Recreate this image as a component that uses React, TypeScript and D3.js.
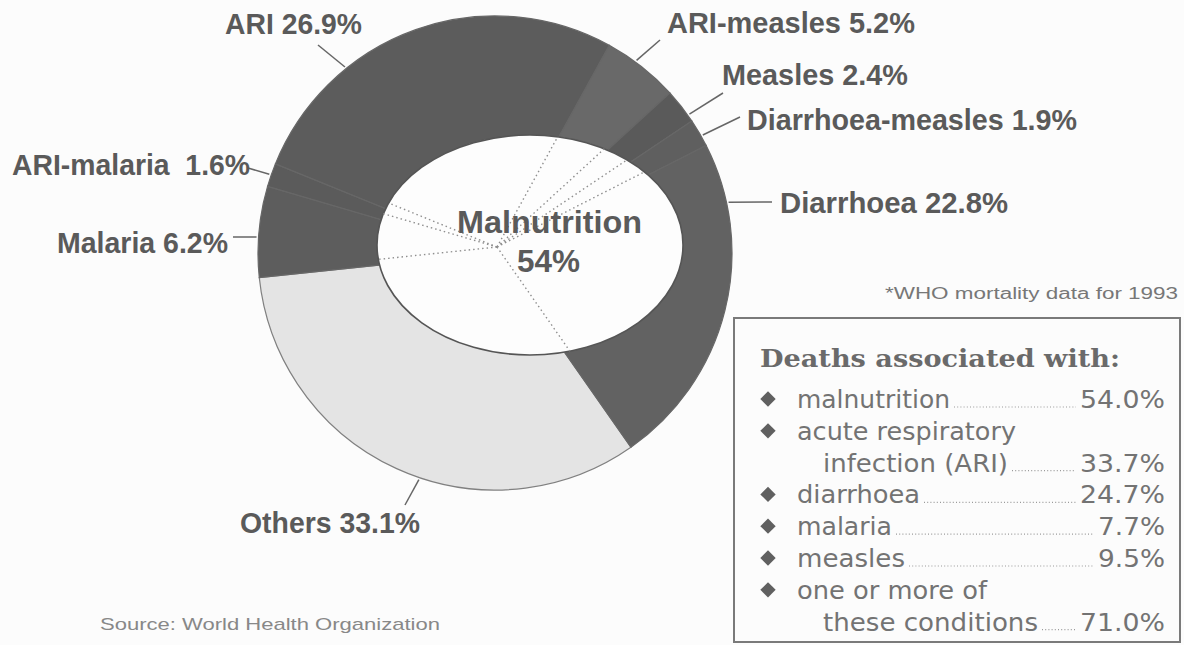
import React from "react";
import * as d3 from "d3";

// ---- data ----
const categories = ["Others", "Malaria", "ARI-malaria", "ARI", "ARI-measles", "Measles", "Diarrhoea-measles", "Diarrhoea"];
const shares = [33.1, 6.2, 1.6, 26.9, 5.2, 2.4, 1.9, 22.8];
const centerTitle = "Malnutrition";
const centerShare = 54;
const legendTitle = "Deaths associated with:";
const legendLabels = [["malnutrition"], ["acute respiratory", "infection (ARI)"], ["diarrhoea"], ["malaria"], ["measles"], ["one or more of", "these conditions"]];
const legendValues = [54.0, 33.7, 24.7, 7.7, 9.5, 71.0];
const footnote = "*WHO mortality data for 1993";
const sourceText = "Source: World Health Organization";

// ---- styles / layout ----
const W = 1184, H = 645;
const cx = 495, cy = 253, R = 237;
const hole = { cx: 530, cy: 245, rx: 153, ry: 110 };
const hub = { x: 497, y: 247 };
const sliceColors: Record<string, string> = {
  "Others": "#e4e4e4",
  "Malaria": "#5d5d5d",
  "ARI-malaria": "#5b5b5b",
  "ARI": "#5c5c5c",
  "ARI-measles": "#696969",
  "Measles": "#5a5a5a",
  "Diarrhoea-measles": "#5f5f5f",
  "Diarrhoea": "#626262",
};
const labelLayout: Record<string, { x: number; y: number; w: number; frac: number; lx: number; ly: number; sep: string }> = {
  "ARI": { x: 225, y: 34, w: 137, frac: 0.30, lx: 318, ly: 45, sep: " " },
  "ARI-measles": { x: 667, y: 33, w: 248, frac: 0.40, lx: 660, ly: 40, sep: " " },
  "Measles": { x: 722, y: 85, w: 186, frac: 0.80, lx: 723, ly: 93, sep: " " },
  "Diarrhoea-measles": { x: 747, y: 130, w: 330, frac: 0.62, lx: 740, ly: 117, sep: " " },
  "Diarrhoea": { x: 780, y: 213, w: 228, frac: 0.18, lx: 772, ly: 202, sep: " " },
  "ARI-malaria": { x: 12, y: 175, w: 238, frac: 0.5, lx: 248, ly: 168, sep: "  " },
  "Malaria": { x: 57, y: 253, w: 171, frac: 0.44, lx: 233, ly: 237, sep: " " },
  "Others": { x: 240, y: 533, w: 180, frac: 0.45, lx: 405, ly: 505, sep: " " },
};
const legendLineWidths = [[153], [219, 185], [123], [95], [108], [190, 215]];
const legendValueWidths = [85, 85, 85, 67, 67, 85];

function holeHit(a: number) {
  const dx = Math.sin(a), dy = -Math.cos(a);
  const px = hub.x - hole.cx, py = hub.y - hole.cy;
  const A = (dx * dx) / (hole.rx * hole.rx) + (dy * dy) / (hole.ry * hole.ry);
  const B = 2 * ((px * dx) / (hole.rx * hole.rx) + (py * dy) / (hole.ry * hole.ry));
  const C = (px * px) / (hole.rx * hole.rx) + (py * py) / (hole.ry * hole.ry) - 1;
  const t = (-B + Math.sqrt(B * B - 4 * A * C)) / (2 * A);
  return { x: hub.x + dx * t, y: hub.y + dy * t };
}

export default function App() {
  const start = (145 * Math.PI) / 180;
  const pie = d3.pie<number>().sort(null).startAngle(start).endAngle(start + 2 * Math.PI);
  const arcs = pie(shares);
  const arc = d3.arc<d3.PieArcDatum<number>>().innerRadius(0).outerRadius(R);

  const labelFont = "'Liberation Sans', Arial, Helvetica, sans-serif";
  const legendFont = "'DejaVu Sans', Verdana, sans-serif";

  const legendX = 797, legendIndent = 823, valueRight = 1165, baseline0 = 408, lineStep = 31.8;
  let lineIdx = 0;
  const legendRows: React.ReactNode[] = [];
  legendLabels.forEach((lines, i) => {
    const firstY = baseline0 + lineIdx * lineStep;
    legendRows.push(
      <path key={`d${i}`} d={d3.symbol().type(d3.symbolDiamond2).size(150)() as string}
        transform={`translate(768,${firstY - 9})`} fill="#606060" />
    );
    lines.forEach((ln, j) => {
      const y = baseline0 + lineIdx * lineStep;
      const x = j === 0 ? legendX : legendIndent;
      const w = legendLineWidths[i][j];
      legendRows.push(
        <text key={`t${i}-${j}`} x={x} y={y} textLength={w} lengthAdjust="spacingAndGlyphs"
          fontFamily={legendFont} fontSize={25} fill="#737373">{ln}</text>
      );
      if (j === lines.length - 1) {
        const vw = legendValueWidths[i];
        legendRows.push(
          <line key={`l${i}`} x1={x + w + 4} x2={valueRight - vw - 4} y1={y - 1} y2={y - 1}
            stroke="#9a9a9a" strokeWidth={1.2} strokeDasharray="1,2.2" />
        );
        legendRows.push(
          <text key={`v${i}`} x={valueRight} y={y} textAnchor="end" textLength={vw} lengthAdjust="spacingAndGlyphs"
            fontFamily={legendFont} fontSize={25} fill="#737373">{legendValues[i].toFixed(1)}%</text>
        );
      }
      lineIdx++;
    });
  });

  return (
    <svg width={W} height={H} style={{ position: "absolute", left: 0, top: 0, background: "#fcfcfc" }}>
      <rect x={0} y={0} width={W} height={H} fill="#fcfcfc" />
      <g transform={`translate(${cx},${cy})`}>
        {arcs.map((a, i) => (
          <path key={categories[i]} d={arc(a) as string} fill={sliceColors[categories[i]]}
            stroke={categories[i] === "Others" ? "#808080" : "#676767"} strokeWidth={1.2} />
        ))}
      </g>
      <ellipse cx={hole.cx} cy={hole.cy} rx={hole.rx} ry={hole.ry} fill="#fdfdfd" stroke="#555" strokeWidth={1.6} />
      {arcs.map((a, i) => {
        const p = holeHit(a.startAngle);
        return <line key={`dot${i}`} x1={hub.x} y1={hub.y} x2={p.x} y2={p.y}
          stroke="#8f8f8f" strokeWidth={1.4} strokeDasharray="1.5,3" />;
      })}
      <text x={457} y={233} textLength={185} lengthAdjust="spacingAndGlyphs" fontFamily={labelFont}
        fontWeight="bold" fontSize={32} fill="#5a5a5a">{centerTitle}</text>
      <text x={517} y={272} textLength={63} lengthAdjust="spacingAndGlyphs" fontFamily={labelFont}
        fontWeight="bold" fontSize={32} fill="#5a5a5a">{centerShare}%</text>

      {arcs.map((a, i) => {
        const cat = categories[i];
        const L = labelLayout[cat];
        const ang = a.startAngle + L.frac * (a.endAngle - a.startAngle);
        const ex = cx + (R + 2) * Math.sin(ang), ey = cy - (R + 2) * Math.cos(ang);
        return (
          <g key={`lab${i}`}>
            <line x1={L.lx} y1={L.ly} x2={ex} y2={ey} stroke="#666" strokeWidth={1.5} />
            <text x={L.x} y={L.y} textLength={L.w} lengthAdjust="spacingAndGlyphs" fontFamily={labelFont}
              fontWeight="bold" fontSize={29} fill="#5a5a5a" style={{ whiteSpace: "pre" }}>
              {`${cat}${L.sep}${shares[i].toFixed(1)}%`}
            </text>
          </g>
        );
      })}

      <text x={885} y={299} textLength={293} lengthAdjust="spacingAndGlyphs" fontFamily={labelFont}
        fontSize={16} fill="#777">{footnote}</text>

      <rect x={734} y={318} width={446} height={324} fill="none" stroke="#7a7a7a" strokeWidth={2} />
      <text x={760} y={367} textLength={360} lengthAdjust="spacingAndGlyphs"
        fontFamily="'DejaVu Serif', 'Liberation Serif', serif" fontWeight="bold" fontSize={25} fill="#6a6a6a">{legendTitle}</text>
      {legendRows}

      <text x={100} y={630} textLength={340} lengthAdjust="spacingAndGlyphs" fontFamily={labelFont}
        fontSize={17} fill="#888">{sourceText}</text>
    </svg>
  );
}
